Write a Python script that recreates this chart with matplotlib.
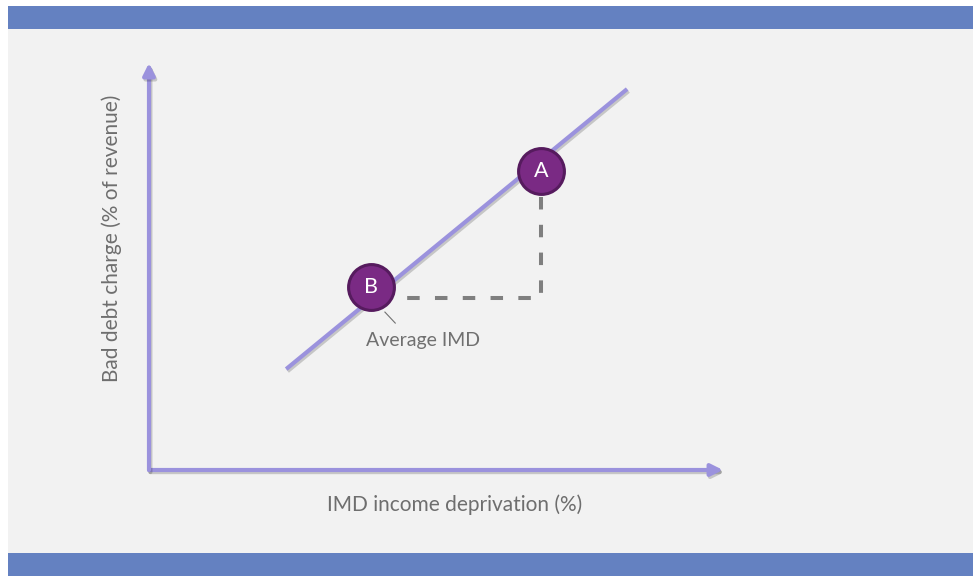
import matplotlib
matplotlib.use("Agg")
import matplotlib.pyplot as plt
from matplotlib.patches import Rectangle
import matplotlib.patheffects as pe

# ---- data (conceptual units) ----
trend_x = [2.39, 8.33]
trend_y = [2.48, 9.36]
point_labels = ["A", "B"]
point_x = [6.83, 3.87]
point_y = [7.35, 4.50]
base_y = 4.23          # level of the horizontal dashed guide
guide_left_x = 4.32    # left end of the horizontal dashed guide
guide_top_y = 6.71     # top end of the vertical dashed guide
avg_label = "Average IMD"
avg_label_x = 4.77
avg_label_y = 3.17
leader_x = [4.11, 4.29]
leader_y = [3.88, 3.61]
x_label = "IMD income deprivation (%)"
y_label = "Bad debt charge (% of revenue)"

W, H = 976, 576
fig = plt.figure(figsize=(W / 100, H / 100), dpi=100)
fig.patch.set_facecolor("white")

def fr(x0, y0, x1, y1, color):
    fig.patches.append(Rectangle((x0 / W, 1 - y1 / H), (x1 - x0) / W, (y1 - y0) / H,
                                 transform=fig.transFigure, facecolor=color,
                                 edgecolor="none", zorder=-5))

fr(8, 29, 973, 553, "#f2f2f2")
fr(8, 6, 973, 29, "#6481c1")
fr(8, 553, 973, 576, "#6481c1")

ax = fig.add_axes([149 / W, (H - 470) / H, (723 - 149) / W, (470 - 63) / H])
ax.set_zorder(2)
ax.set_xlim(0, 10)
ax.set_ylim(0, 10)
ax.axis("off")
ax.patch.set_alpha(0)

lav = "#9b92dd"
shadow = [pe.SimpleLineShadow(offset=(1, -1.5), shadow_color="k", alpha=0.18), pe.Normal()]

for end in [(10, 0), (0, 10)]:
    ax.annotate("", xy=end, xytext=(0, 0), xycoords="data",
                arrowprops=dict(arrowstyle="-|>,head_length=0.7,head_width=0.35",
                                color=lav, lw=3, shrinkA=0, shrinkB=0,
                                path_effects=shadow),
                annotation_clip=False)

ax.plot(trend_x, trend_y, color=lav, lw=3, solid_capstyle="butt", path_effects=shadow, zorder=2)

ax.plot([point_x[0], point_x[0], guide_left_x], [guide_top_y, base_y, base_y],
        color="#7f7f7f", lw=2.9, dashes=(3.1, 3.8), dash_capstyle="butt",
        solid_joinstyle="miter", zorder=2)

ax.plot(leader_x, leader_y, color="#707070", lw=0.8, zorder=3)

ax.scatter(point_x, point_y, s=1089, facecolor="#7a2a84", edgecolor="#561b5e",
           linewidths=2.2, zorder=4)
for lab, x, y in zip(point_labels, point_x, point_y):
    ax.text(x, y, lab, color="white", fontsize=15.5, ha="center", va="center",
            family="Lato", zorder=5)

ax.text(avg_label_x, avg_label_y, avg_label, ha="center", va="center", fontsize=14,
        color="#707070", family="Lato", zorder=3)

fig.text(455 / W, 1 - 505 / H, x_label, ha="center", va="center", fontsize=15,
         color="#6e6e6e", family="Lato")
fig.text(112 / W, 1 - 238 / H, y_label, ha="center", va="center", fontsize=15,
         color="#6e6e6e", family="Lato", rotation=90)

fig.savefig("out.png", dpi=100)
